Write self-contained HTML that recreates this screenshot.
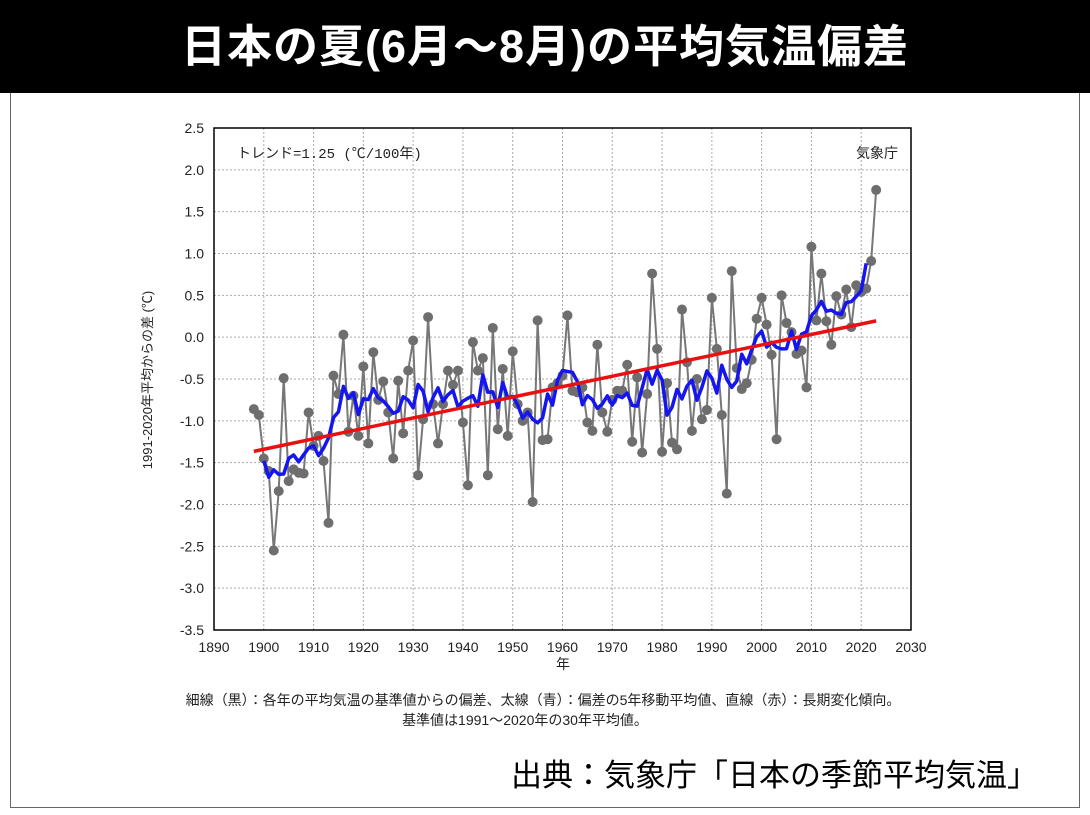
<!DOCTYPE html>
<html><head><meta charset="utf-8"><style>
body{margin:0;width:1090px;height:815px;background:#fff;overflow:hidden;font-family:"Liberation Sans","Noto Sans CJK JP",sans-serif;}
#title{position:absolute;left:0;top:0;width:1090px;height:93px;background:#000;color:#fff;font-size:45px;font-weight:bold;text-align:center;line-height:93px;letter-spacing:1px;}
#box{position:absolute;left:10px;top:93px;width:1068px;height:714px;border:1px solid #666;border-top:none;}
svg{position:absolute;left:0;top:0}
#src{position:absolute;right:52px;top:750px;font-size:31px;color:#000;}
</style></head><body>
<div id="title">日本の夏(6月～8月)の平均気温偏差</div>
<div id="box"></div>
<svg id="chart" width="1090" height="815"></svg>
<div id="src">出典：気象庁「日本の季節平均気温」</div>
<script>
const startYear=1898;
const anomalies=[-0.86,-0.93,-1.45,-1.6,-2.55,-1.84,-0.49,-1.72,-1.58,-1.62,-1.63,-0.9,-1.3,-1.18,-1.48,-2.22,-0.46,-0.68,0.03,-1.13,-0.7,-1.18,-0.35,-1.27,-0.18,-0.75,-0.53,-0.9,-1.45,-0.52,-1.15,-0.4,-0.04,-1.65,-0.98,0.24,-0.8,-1.27,-0.8,-0.4,-0.57,-0.4,-1.02,-1.77,-0.06,-0.4,-0.25,-1.65,0.11,-1.1,-0.38,-1.18,-0.17,-0.8,-1.0,-0.9,-1.97,0.2,-1.23,-1.22,-0.6,-0.55,-0.46,0.26,-0.64,-0.66,-0.6,-1.02,-1.12,-0.09,-0.9,-1.13,-0.75,-0.64,-0.64,-0.33,-1.25,-0.48,-1.38,-0.68,0.76,-0.14,-1.37,-0.55,-1.26,-1.34,0.33,-0.3,-1.12,-0.5,-0.98,-0.87,0.47,-0.14,-0.93,-1.87,0.79,-0.37,-0.62,-0.55,-0.27,0.22,0.47,0.15,-0.21,-1.22,0.5,0.17,0.06,-0.2,-0.16,-0.6,1.08,0.2,0.76,0.19,-0.09,0.49,0.27,0.57,0.12,0.62,0.54,0.58,0.91,1.76];
const yTicks=[2.5,2.0,1.5,1.0,0.5,0.0,-0.5,-1.0,-1.5,-2.0,-2.5,-3.0,-3.5];
const xTicks=[1890,1900,1910,1920,1930,1940,1950,1960,1970,1980,1990,2000,2010,2020,2030];
const L=214,R=911,T=128,B=630;
const X=y=>L+(y-1890)/140*(R-L);
const Y=v=>T+(2.5-v)/6*(B-T);
const svg=document.getElementById('chart');const NS='http://www.w3.org/2000/svg';
function mk(tag,attrs,parent){const e=document.createElementNS(NS,tag);for(const k in attrs)e.setAttribute(k,attrs[k]);(parent||svg).appendChild(e);return e;}
mk('rect',{x:L,y:T,width:R-L,height:B-T,fill:'#fff',stroke:'none'});
yTicks.forEach(v=>{const l=mk('line',{x1:L,x2:R,y1:Y(v),y2:Y(v),stroke:'#aaa','stroke-dasharray':'2,2'});

const t=mk('text',{x:L-10,y:Y(v)+5,'text-anchor':'end','font-size':'14',fill:'#222'});t.textContent=v.toFixed(1);
});
xTicks.forEach(v=>{const l=mk('line',{x1:X(v),x2:X(v),y1:T,y2:B,stroke:'#aaa','stroke-dasharray':'2,2'});

const t=mk('text',{x:X(v),y:B+22,'text-anchor':'middle','font-size':'14',fill:'#222'});t.textContent=v;
});
const fr=mk('rect',{x:L,y:T,width:R-L,height:B-T,fill:'none',stroke:'#000','stroke-width':1.5});

const yrs=anomalies.map((v,i)=>startYear+i);
const gl=mk('polyline',{points:anomalies.map((v,i)=>X(yrs[i])+','+Y(v)).join(' '),fill:'none',stroke:'#777','stroke-width':2});

anomalies.forEach((v,i)=>{const c=mk('circle',{cx:X(yrs[i]),cy:Y(v),r:5,fill:'#6e6e6e'});
});
const ma=[];for(let i=2;i<anomalies.length-2;i++){let s=0;for(let k=-2;k<=2;k++)s+=anomalies[i+k];ma.push([yrs[i],s/5]);}
const bl=mk('polyline',{points:ma.map(p=>X(p[0])+','+Y(p[1])).join(' '),fill:'none',stroke:'#1515f0','stroke-width':3.5,'stroke-linejoin':'round'});

const n=anomalies.length,mx=yrs.reduce((a,b)=>a+b)/n,my=anomalies.reduce((a,b)=>a+b)/n;
let sxy=0,sxx=0;yrs.forEach((x,i)=>{sxy+=(x-mx)*(anomalies[i]-my);sxx+=(x-mx)**2;});
const sl=sxy/sxx,f=x=>my+sl*(x-mx);
const x0=1898,x1=yrs[n-1];
const tl=mk('line',{x1:X(x0),y1:Y(f(x0)),x2:X(x1),y2:Y(f(x1)),stroke:'#e81010','stroke-width':3.5});

function txt(s,attrs,name){const t=mk('text',attrs);t.textContent=s;return t;}
txt('トレンド=1.25 (℃/100年)',{x:237,y:158,'font-size':'14',fill:'#222','font-family':'"Liberation Mono","Noto Sans CJK JP",monospace'},'trend-annotation');
txt('気象庁',{x:898,y:158,'font-size':'14','text-anchor':'end',fill:'#222'},'agency-label');
txt('年',{x:563,y:669,'font-size':'14','text-anchor':'middle',fill:'#222'},'x-axis-title');
txt('1991-2020年平均からの差 (℃)',{x:0,y:0,'font-size':'13','text-anchor':'middle',fill:'#222',transform:'translate(152,380) rotate(-90)'},'y-axis-title');
txt('細線（黒）：各年の平均気温の基準値からの偏差、太線（青）：偏差の5年移動平均値、直線（赤）：長期変化傾向。',{x:543,y:705,'font-size':'14','text-anchor':'middle',fill:'#222'},'legend-note');
txt('基準値は1991～2020年の30年平均値。',{x:525,y:725,'font-size':'14','text-anchor':'middle',fill:'#222'},'baseline-note');
</script>
</body></html>
